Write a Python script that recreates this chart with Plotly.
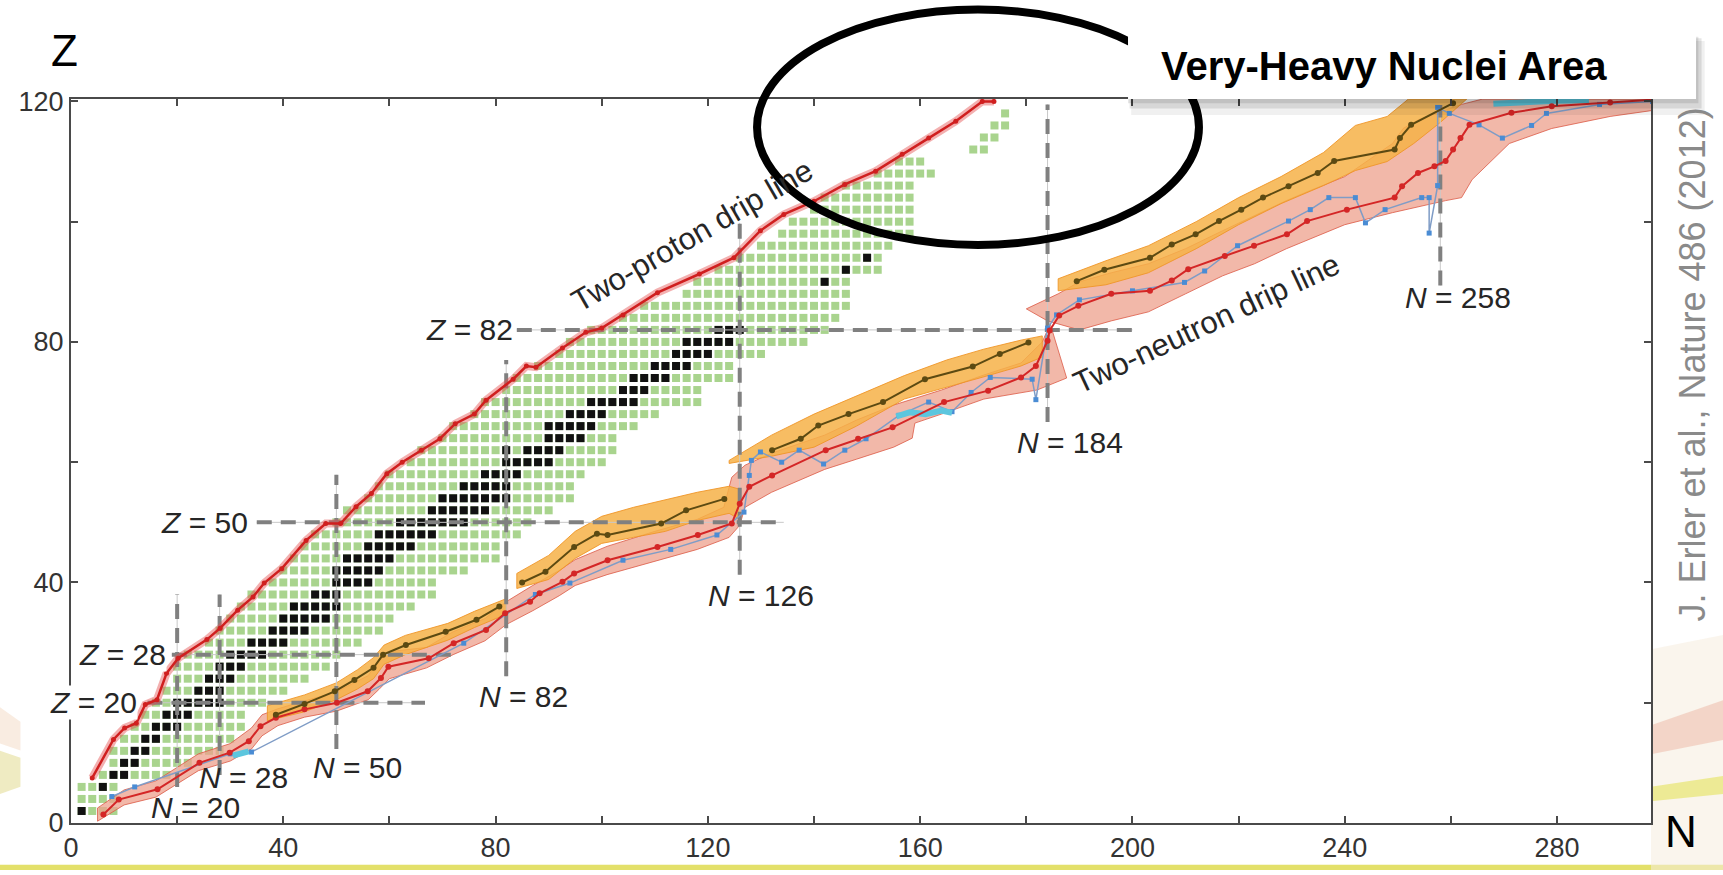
import plotly.graph_objects as go

# ---------------- data ----------------
x_tickvals = [0, 20, 40, 60, 80, 100, 120, 140, 160, 180, 200, 220, 240, 260, 280]
x_ticktext = ["0", "", "40", "", "80", "", "120", "", "160", "", "200", "", "240", "", "280"]
y_tickvals = [0, 20, 40, 60, 80, 100, 120]
y_ticktext = ["0", "", "40", "", "80", "", "120"]

# known (even-even) nuclei: for each even Z, the range of N shown as squares
green_Z = [2, 4, 6, 8, 10, 12, 14, 16, 18, 20, 22, 24, 26, 28, 30, 32, 34, 36, 38, 40,
           42, 44, 46, 48, 50, 52, 54, 56, 58, 60, 62, 64, 66, 68, 70, 72, 74, 76, 78, 80,
           82, 84, 86, 88, 90, 92, 94, 96, 98, 100, 102, 104, 106, 108, 110, 112, 114, 116, 118]
green_Nmin = [2, 2, 2, 6, 8, 8, 10, 12, 14, 16, 18, 20, 20, 22, 26, 28, 30, 32, 34, 38,
              40, 42, 44, 46, 50, 52, 56, 58, 60, 64, 66, 70, 72, 76, 78, 82, 84, 88, 92, 94,
              98, 104, 108, 116, 118, 122, 126, 130, 134, 136, 140, 142, 146, 152, 156, 170, 172, 174, 176]
green_Nmax = [8, 8, 8, 18, 22, 28, 30, 32, 32, 36, 40, 44, 48, 50, 54, 58, 60, 64, 68, 68,
              74, 80, 80, 84, 86, 90, 94, 94, 96, 100, 102, 102, 106, 110, 118, 118, 124, 124, 130, 138,
              142, 144, 146, 146, 146, 152, 152, 154, 158, 158, 158, 158, 158, 162, 160, 172, 174, 176, 176]

# stable even-even nuclei (black squares)
stable_Z = [2, 6, 8, 10, 12, 14, 16, 18, 20, 22, 24, 26, 28, 30, 32, 34, 36, 38, 40, 42,
            44, 46, 48, 50, 52, 54, 56, 58, 60, 62, 64, 66, 68, 70, 72, 74, 76, 78, 80, 82,
            90, 92, 94]
stable_N = [[2], [6], [8, 10], [10, 12], [12, 14], [14, 16], [16, 18, 20], [18, 20, 22],
            [20, 22, 24, 26, 28], [24, 26, 28], [26, 28, 30], [28, 30, 32], [30, 32, 34, 36],
            [34, 36, 38, 40], [38, 40, 42, 44], [40, 42, 44, 46, 48], [42, 44, 46, 48, 50],
            [46, 48, 50], [50, 52, 54, 56], [50, 52, 54, 56, 58], [52, 54, 56, 58, 60],
            [56, 58, 60, 62, 64], [58, 60, 62, 64, 66, 68], [62, 64, 66, 68, 70, 72, 74],
            [68, 70, 72, 74, 76, 78], [70, 72, 74, 76, 78, 80, 82], [74, 76, 78, 80, 82],
            [78, 80, 82, 84], [82, 84, 86, 88, 90], [82, 86, 88, 90, 92], [90, 92, 94, 96],
            [90, 92, 94, 96, 98], [94, 96, 98, 100], [98, 100, 102, 104, 106], [104, 106, 108],
            [106, 108, 110, 112], [110, 112, 114, 116], [114, 116, 118, 120],
            [116, 118, 120, 122, 124], [122, 124, 126], [142], [146], [150]]

# two-proton drip line
proton_N = [4.0, 8.0, 10.1, 12.3, 14.0, 16.2, 18.0, 20.2, 25.6, 28.1, 31.4, 34.3, 36.4, 39.7,
            44.3, 48.0, 50.8, 53.7, 56.6, 59.5, 62.4, 66.0, 69.5, 72.4, 76.0, 78.2, 83.3, 85.8,
            87.6, 92.6, 97.0, 100.0, 104.0, 110.5, 118.4, 124.9, 129.9, 134.3, 140.0, 145.8,
            151.6, 156.6, 161.6, 166.7, 171.7, 173.9]
proton_Z = [7.5, 13.9, 15.8, 16.6, 19.7, 20.5, 24.9, 27.4, 30.5, 32.4, 35.4, 37.6, 39.9, 42.3,
            47.0, 49.8, 49.8, 52.6, 54.8, 58.1, 60.0, 62.0, 63.9, 66.4, 68.0, 70.3, 73.8, 76.0,
            75.8, 79.0, 81.6, 82.3, 84.5, 88.2, 91.3, 94.0, 98.5, 101.2, 103.4, 106.2,
            108.4, 111.2, 113.9, 116.7, 120.0, 120.0]

# two-neutron drip line: red model
red_N = [6.1, 9.0, 16.3, 24.2, 29.9, 33.5, 35.7, 38.6, 44.0, 50.1, 55.9, 58.4, 59.8, 67.4, 72.1,
         78.2, 81.8, 86.5, 88.3, 92.6, 94.8, 101.1, 110.5, 118.1, 124.5, 126.0, 127.8, 132.1,
         142.2, 148.3, 154.8, 164.5, 172.8, 179.0, 181.8, 184.0, 184.4, 186.2, 189.8, 196.0,
         203.3, 207.4, 210.5, 217.4, 222.9, 229.1, 232.9, 240.4, 249.4, 250.8, 253.8, 256.9,
         259.0, 260.4, 261.8, 263.5, 271.4, 279.0, 290.0, 298.0]
red_Z = [1.4, 3.9, 5.6, 10.0, 11.7, 13.6, 16.1, 17.5, 18.9, 20.0, 21.9, 24.1, 26.0, 27.4, 29.9,
         32.1, 34.9, 36.8, 38.2, 40.1, 41.5, 43.7, 45.9, 47.9, 49.8, 53.1, 55.9, 57.8,
         62.0, 63.9, 65.8, 70.0, 71.9, 74.1, 76.0, 80.2, 81.9, 84.4, 86.0, 88.0,
         88.5, 90.2, 92.1, 94.3, 96.0, 97.9, 100.1, 102.0, 104.0, 105.9, 108.1, 109.2,
         110.1, 112.0, 113.9, 116.1, 118.1, 119.2, 119.8, 120.3]

# two-neutron drip line: olive model (segments separated by None)
olive_N = [38.6, 44.0, 49.7, 53.4, 57.0, 58.8, 63.1, 70.6, 76.4, 80.7, None,
           85.0, 89.4, 94.8, 99.1, 101.1, 111.2, 115.9, 123.1, None,
           132.1, 137.5, 140.8, 146.5, 153.0, 160.9, 169.9, 175.0, 180.4, None,
           189.5, 194.7, 203.3, 207.4, 211.9, 216.3, 220.5, 224.6, 229.4, 234.9, 238.0,
           249.4, 250.4, 252.5, 260.4]
olive_Z = [18.0, 19.8, 21.9, 23.8, 25.8, 28.0, 29.6, 31.8, 33.8, 36.0, None,
           40.0, 41.8, 45.9, 48.1, 47.9, 49.8, 52.0, 53.9, None,
           62.0, 63.9, 66.1, 68.0, 70.0, 73.8, 75.9, 78.0, 79.9, None,
           90.1, 92.0, 94.0, 96.2, 97.9, 100.1, 102.0, 104.0, 105.9, 108.1, 110.1,
           112.0, 113.9, 116.1, 119.7]

# two-neutron drip line: blue model
blue_N = [7.7, 12.0, 30.0, 34.0, 74.0, 87.5, 94.0, 104.0, 113.0, 121.7, 126.8, 127.8, 128.2,
          129.9, 133.9, 137.2, 141.8, 145.8, 149.8, 156.0, 161.6, 166.0, 169.6, 173.2, 181.1,
          181.8, 184.0, 185.7, 190.0, 200.0, 209.8, 213.6, 219.8, 229.4, 233.5, 237.0, 242.0,
          243.9, 247.6, 254.5, 255.9, 255.9, 257.5, 257.5, 259.7, 265.3, 269.7, 275.2, 278.0,
          288.0, 298.0]
blue_Z = [4.4, 6.0, 11.5, 11.8, 29.9, 38.0, 39.9, 43.7, 45.5, 47.9, 51.7, 57.8, 60.3,
          61.7, 60.0, 62.0, 59.7, 62.0, 63.9, 67.8, 70.0, 68.4, 71.6, 74.1, 73.8,
          70.4, 82.3, 84.5, 87.0, 88.5, 89.9, 91.8, 96.0, 100.1, 102.0, 104.0, 104.0,
          99.8, 102.0, 104.0, 104.0, 98.1, 106.0, 119.0, 118.0, 116.1, 113.9, 116.0, 118.0,
          119.5, 120.0]

# cyan model fragments
cyan_N = [30.5, 32.0, 33.5, None, 155.5, 158.0, 161.0, 164.0, 166.0, None, 268.0, 274.0, 280.0, 286.0]
cyan_Z = [11.2, 11.6, 11.9, None, 67.6, 68.3, 68.0, 68.6, 68.2, None, 119.6, 119.9, 120.1, 120.2]

# uncertainty bands (upper edge forward, lower edge backward)
pink_band_N = [
    [5, 10, 16, 24, 30, 34, 36, 39, 44, 50, 56, 58, 60, 67, 72, 78, 82, 87, 92, 95, 101, 110,
     118, 123, 124.5, 127, 132, 142, 148, 155, 164, 172, 179, 183, 184.5,
     187.6, 182, 172, 164, 159, 158.5, 155, 148, 142, 132, 127, 126, 124, 118, 110, 101, 95,
     92, 87, 82, 78, 72, 67, 60, 58, 56, 50, 44, 39, 36, 34, 30, 24, 16, 10, 5],
    [180, 186, 190, 196, 203, 210, 217, 223, 229, 233, 240, 249, 251, 254, 259, 262, 266, 298,
     298, 290, 279, 271, 264, 262, 259, 254, 249, 240, 233, 229, 223, 217, 210, 203, 196, 190, 184]]
pink_band_Z = [
    [2.5, 5.5, 7.0, 11.5, 13.2, 15.8, 18.0, 19.0, 20.3, 21.8, 24.5, 27.0, 28.5, 29.2, 31.8, 34.0,
     36.8, 39.5, 42.0, 43.8, 46.0, 48.5, 50.5, 52.5, 57.5, 59.5, 61.5, 64.5, 67.0, 69.5, 72.0,
     74.5, 76.5, 80.0, 83.0,
     74.0, 72.0, 70.5, 68.0, 66.5, 64.0, 62.5, 60.5, 58.8, 55.0, 52.5, 49.5, 47.5, 45.5, 43.5,
     41.3, 39.5, 37.8, 35.3, 33.0, 30.3, 28.0, 25.8, 24.0, 22.2, 20.5, 18.6, 17.6, 16.2, 14.5,
     12.3, 10.3, 8.7, 4.3, 3.0, 0.3],
    [85.5, 88.0, 90.0, 91.5, 93.0, 95.5, 98.5, 101.0, 103.5, 105.0, 107.5, 113.0, 115.5, 117.0,
     118.5, 119.5, 120.4, 120.4,
     118.5, 117.5, 115.5, 113.0, 107.0, 104.0, 103.5, 102.5, 101.5, 99.5, 97.0, 95.5, 93.0, 91.0,
     88.0, 85.0, 83.5, 82.0, 83.5]]

orange_band_N = [
    [37, 44, 50, 54, 57, 59, 63, 71, 76, 82, 82, 76, 71, 63, 59, 57, 54, 50, 44, 37],
    [84, 90, 95, 100, 106, 112, 118, 124, 126, 126, 124, 118, 112, 106, 100, 95, 90, 84],
    [124, 132, 140, 148, 157, 165, 172, 179, 183, 183, 179, 172, 165, 157, 148, 140, 132, 124],
    [186, 195, 203, 212, 220, 228, 236, 242, 248, 252, 254,
     263, 258, 253, 248, 242, 236, 228, 220, 212, 203, 195, 186]]
orange_band_Z = [
    [19.5, 21.3, 23.3, 25.5, 27.5, 29.6, 31.2, 33.2, 35.2, 37.3,
     34.7, 32.5, 30.4, 28.0, 26.4, 24.0, 22.3, 20.5, 18.5, 17.0],
    [41.5, 44.5, 48.5, 51.0, 52.5, 53.8, 55.0, 56.0, 55.5,
     50.5, 51.5, 50.3, 48.5, 47.5, 46.5, 44.0, 40.5, 39.0],
    [60.3, 64.5, 68.0, 71.0, 74.4, 77.0, 78.8, 80.3, 81.0,
     77.5, 76.0, 74.2, 72.5, 70.5, 66.0, 62.5, 61.0, 59.8],
    [90.5, 93.5, 96.0, 100.0, 104.0, 107.5, 111.5, 116.0, 117.5, 120.4, 120.4,
     120.4, 116.5, 113.0, 110.0, 108.5, 106.0, 103.0, 99.5, 95.5, 91.5, 89.5, 88.5]]

# magic-number guide lines
magicZ = [20, 28, 50, 82]
magicZ_from = [14.4, 19.0, 35.0, 84.0]
magicZ_to = [66.7, 71.7, 134.3, 200.0]
magicN = [20, 28, 50, 82, 126, 184, 258]
magicN_from = [6.0, 8.0, 12.3, 24.4, 41.3, 66.7, 89.4]
magicN_to = [38.0, 38.0, 57.9, 77.0, 99.8, 119.5, 119.4]

# magic labels: text, x (N), y (Z), anchor
magic_label_text = ["<i>Z</i> = 20", "<i>Z</i> = 28", "<i>Z</i> = 50", "<i>Z</i> = 82",
                    "<i>N</i> = 20", "<i>N</i> = 28", "<i>N</i> = 50", "<i>N</i> = 82",
                    "<i>N</i> = 126", "<i>N</i> = 184", "<i>N</i> = 258"]
magic_label_x = [12.6, 18.0, 33.5, 83.5, 23.5, 32.5, 53.9, 85.2, 130.0, 188.3, 261.3]
magic_label_y = [20.0, 28.0, 50.0, 82.0, 2.6, 7.6, 9.2, 21.0, 37.8, 63.3, 87.4]
magic_label_anchor = ["right", "right", "right", "right", "center", "center", "center",
                      "center", "center", "center", "center"]

# ---------------- figure ----------------
fig = go.Figure()

FONT = "Liberation Sans, Arial, Helvetica, sans-serif"

# green known nuclei
gx, gy = [], []
for z, n0, n1 in zip(green_Z, green_Nmin, green_Nmax):
    for n in range(n0, n1 + 1, 2):
        gx.append(n)
        gy.append(z)
fig.add_trace(go.Scatter(x=gx, y=gy, mode="markers",
                         marker=dict(symbol="square", size=8, color="#a9d48e", line=dict(width=0)),
                         hoverinfo="skip", showlegend=False))

bx, by = [], []
for z, ns in zip(stable_Z, stable_N):
    for n in ns:
        bx.append(n)
        by.append(z)
fig.add_trace(go.Scatter(x=bx, y=by, mode="markers",
                         marker=dict(symbol="square", size=8, color="#111111", line=dict(width=0)),
                         hoverinfo="skip", showlegend=False))

# pink bands
for ns, zs in zip(pink_band_N, pink_band_Z):
    fig.add_trace(go.Scatter(x=ns + [ns[0]], y=zs + [zs[0]], mode="lines", fill="toself",
                             fillcolor="rgba(238,160,140,0.75)",
                             line=dict(color="rgba(220,90,70,0.8)", width=1),
                             hoverinfo="skip", showlegend=False))
# orange bands
for ns, zs in zip(orange_band_N, orange_band_Z):
    fig.add_trace(go.Scatter(x=ns + [ns[0]], y=zs + [zs[0]], mode="lines", fill="toself",
                             fillcolor="rgba(246,178,72,0.85)",
                             line=dict(color="rgba(240,150,40,0.9)", width=1),
                             hoverinfo="skip", showlegend=False))

# magic-number dashed lines
for z, a, b in zip(magicZ, magicZ_from, magicZ_to):
    fig.add_trace(go.Scatter(x=[a, b], y=[z, z], mode="lines",
                             line=dict(color="#c8c8c8", width=1),
                             hoverinfo="skip", showlegend=False))
    fig.add_trace(go.Scatter(x=[a, b], y=[z, z], mode="lines",
                             line=dict(color="#808080", width=4, dash="15px,9px"),
                             hoverinfo="skip", showlegend=False))
for n, a, b in zip(magicN, magicN_from, magicN_to):
    fig.add_trace(go.Scatter(x=[n, n], y=[a, b], mode="lines",
                             line=dict(color="#c8c8c8", width=1),
                             hoverinfo="skip", showlegend=False))
    fig.add_trace(go.Scatter(x=[n, n], y=[a, b], mode="lines",
                             line=dict(color="#808080", width=4, dash="15px,9px"),
                             hoverinfo="skip", showlegend=False))

# blue model
fig.add_trace(go.Scatter(x=blue_N, y=blue_Z, mode="lines+markers",
                         line=dict(color="#7f9cc6", width=1.5),
                         marker=dict(symbol="square", size=5, color="#4a8cd4"),
                         hoverinfo="skip", showlegend=False))
# cyan fragments
fig.add_trace(go.Scatter(x=cyan_N, y=cyan_Z, mode="lines",
                         line=dict(color="#5cc6de", width=6),
                         hoverinfo="skip", showlegend=False))
# red neutron drip line
fig.add_trace(go.Scatter(x=red_N, y=red_Z, mode="lines+markers",
                         line=dict(color="#d42626", width=2),
                         marker=dict(size=6, color="#d42626"),
                         hoverinfo="skip", showlegend=False))
# olive model
fig.add_trace(go.Scatter(x=olive_N, y=olive_Z, mode="lines+markers",
                         line=dict(color="#5c4a12", width=2),
                         marker=dict(size=6, color="#5c4a12"),
                         connectgaps=False, hoverinfo="skip", showlegend=False))

# proton drip line
fig.add_trace(go.Scatter(x=proton_N, y=proton_Z, mode="lines",
                         line=dict(color="rgba(228,80,80,0.45)", width=8),
                         hoverinfo="skip", showlegend=False))
fig.add_trace(go.Scatter(x=proton_N, y=proton_Z, mode="lines+markers",
                         line=dict(color="#d01f1f", width=2.5),
                         marker=dict(size=5, color="#d01f1f"),
                         hoverinfo="skip", showlegend=False))

annotations = []
for t, x, y, a in zip(magic_label_text, magic_label_x, magic_label_y, magic_label_anchor):
    annotations.append(dict(x=x, y=y, xref="x", yref="y", text=t, showarrow=False,
                            xanchor=a, yanchor="middle",
                            bgcolor="white" if t.startswith("<i>Z") else "rgba(0,0,0,0)",
                            borderpad=0,
                            font=dict(family=FONT, size=30, color="#262626")))

annotations += [
    dict(x=117.1, y=97.7, xref="x", yref="y", text="Two-proton drip line", showarrow=False,
         xanchor="center", yanchor="middle",
         textangle=-30, font=dict(family=FONT, size=31, color="#262626")),
    dict(x=214.0, y=83.0, xref="x", yref="y", text="Two-neutron drip line", showarrow=False,
         xanchor="center", yanchor="middle",
         textangle=-25, font=dict(family=FONT, size=31, color="#262626")),
    dict(x=-0.0044, y=1.067, xref="paper", yref="paper", text="Z", showarrow=False,
         xanchor="center", yanchor="middle",
         font=dict(family=FONT, size=44, color="black")),
    dict(x=1.019, y=-0.0123, xref="paper", yref="paper", text="N", showarrow=False,
         xanchor="center", yanchor="middle",
         font=dict(family=FONT, size=44, color="black")),
    dict(x=1.0265, y=0.633, xref="paper", yref="paper", text="J. Erler et al., Nature 486 (2012)",
         showarrow=False, textangle=-90, xanchor="center", yanchor="middle",
         font=dict(family=FONT, size=36, color="#8a8a8a")),
    dict(x=0.831, y=1.045, xref="paper", yref="paper", text="<b>Very-Heavy Nuclei Area</b>",
         showarrow=False, xanchor="center", yanchor="middle",
         font=dict(family=FONT, size=40, color="black")),
]

shapes = [
    # decorative slide background pieces
    dict(type="rect", xref="paper", yref="paper", x0=-0.045, x1=1.046, y0=-0.065, y1=-0.0575,
         fillcolor="rgba(222,218,80,0.85)", line=dict(width=0), layer="below"),
    dict(type="path", xref="paper", yref="paper",
         path="M 1.0,0.24 L 1.046,0.26 L 1.046,-0.065 L 1.0,-0.065 Z",
         fillcolor="rgba(246,236,222,0.55)", line=dict(width=0), layer="below"),
    dict(type="path", xref="paper", yref="paper",
         path="M 1.0,0.135 L 1.046,0.17 L 1.046,0.115 L 1.0,0.095 Z",
         fillcolor="rgba(236,176,156,0.45)", line=dict(width=0), layer="below"),
    dict(type="path", xref="paper", yref="paper",
         path="M 1.0,0.05 L 1.046,0.065 L 1.046,0.04 L 1.0,0.03 Z",
         fillcolor="rgba(228,226,90,0.6)", line=dict(width=0), layer="below"),
    dict(type="path", xref="paper", yref="paper",
         path="M -0.045,0.10 L -0.032,0.09 L -0.032,0.05 L -0.045,0.04 Z",
         fillcolor="rgba(220,210,120,0.45)", line=dict(width=0), layer="below"),
    dict(type="path", xref="paper", yref="paper",
         path="M -0.045,0.16 L -0.032,0.14 L -0.032,0.10 L -0.045,0.11 Z",
         fillcolor="rgba(238,200,170,0.35)", line=dict(width=0), layer="below"),
    # ellipse highlight
    dict(type="circle", xref="paper", yref="paper", x0=0.4342, x1=0.7139, y0=0.7984, y1=1.1235,
         line=dict(color="black", width=8), fillcolor="rgba(0,0,0,0)", layer="above"),
    # label box soft shadow and box
    dict(type="rect", xref="paper", yref="paper", x0=0.671, x1=1.034, y0=0.978, y1=1.080,
         fillcolor="rgba(0,0,0,0.06)", line=dict(width=0), layer="above"),
    dict(type="rect", xref="paper", yref="paper", x0=0.670, x1=1.032, y0=0.987, y1=1.084,
         fillcolor="rgba(0,0,0,0.10)", line=dict(width=0), layer="above"),
    dict(type="rect", xref="paper", yref="paper", x0=0.669, x1=1.030, y0=0.994, y1=1.086,
         fillcolor="rgba(0,0,0,0.10)", line=dict(width=0), layer="above"),
    dict(type="rect", xref="paper", yref="paper", x0=0.669, x1=1.0285, y0=1.0, y1=1.0878,
         fillcolor="white", line=dict(width=0), layer="above"),
]

axis_common = dict(showgrid=False, zeroline=False, showline=True, linecolor="#4a4a4a",
                   linewidth=2, ticks="inside", ticklen=7, tickwidth=2, tickcolor="#4a4a4a",
                   mirror="ticks", tickfont=dict(family=FONT, size=27, color="#333333"))

fig.update_layout(
    width=1723, height=875,
    margin=dict(l=71, r=72, t=99, b=47),
    paper_bgcolor="white", plot_bgcolor="white",
    xaxis=dict(range=[0, 297.7], tickmode="array", tickvals=x_tickvals, ticktext=x_ticktext,
               **axis_common),
    yaxis=dict(range=[0, 120.4], tickmode="array", tickvals=y_tickvals, ticktext=y_ticktext,
               **axis_common),
    annotations=annotations,
    shapes=shapes,
    showlegend=False,
)

fig.write_html("out.html", config={"displayModeBar": False})
